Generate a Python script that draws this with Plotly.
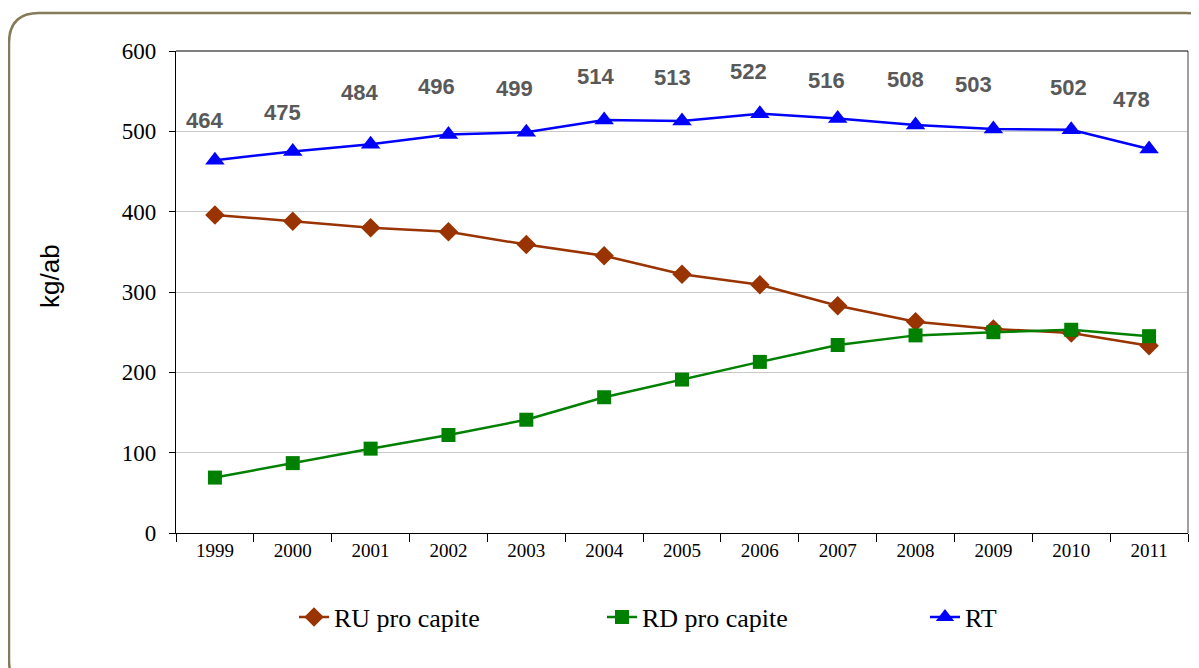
import plotly.graph_objects as go

years = ["1999", "2000", "2001", "2002", "2003", "2004", "2005", "2006", "2007", "2008", "2009", "2010", "2011"]
ru_pro_capite = [396, 388, 380, 375, 359, 345, 322, 309, 283, 263, 254, 249, 233]
rd_pro_capite = [69, 87, 105, 122, 141, 169, 191, 213, 234, 246, 250, 253, 245]
rt = [464, 475, 484, 496, 499, 514, 513, 522, 516, 508, 503, 502, 478]
y_ticks = [0, 100, 200, 300, 400, 500, 600]

# style: pixel offsets of the RT value labels (hand-placed in the original)
label_dx = [-10, -10, -11, -12, -12, -9, -10, -11, -11, -10, -20, -3, -18]
label_dy = [40, 39, 52, 48, 44, 44, 43, 42, 38, 45, 44, 42, 50]

# page body offset (browser default margin)
OFF = 8
W, H = 1199 - OFF, 668 - OFF
# plot area in screen pixels
L, R, T, B = 176, 1188, 51, 533

SERIF = "Liberation Serif"
SANS = "Liberation Sans"


def px(x):
    return (x - L) / (R - L)


def py(y):
    return (B - y) / (B - T)


fig = go.Figure()
fig.add_trace(go.Scatter(x=years, y=ru_pro_capite, name="RU pro capite", mode="lines+markers",
                         line=dict(color="#993300", width=2.5), legend="legend",
                         marker=dict(symbol="diamond", size=15, color="#993300")))
fig.add_trace(go.Scatter(x=years, y=rd_pro_capite, name="RD pro capite", mode="lines+markers",
                         line=dict(color="#008000", width=2.5), legend="legend2",
                         marker=dict(symbol="square", size=14, color="#008000")))
fig.add_trace(go.Scatter(x=years, y=rt, name="RT", mode="lines+markers",
                         line=dict(color="#0000ff", width=2.5), legend="legend3",
                         marker=dict(symbol="triangle-up", size=17, color="#0000ff")))

annotations = []
for i, v in enumerate(rt):
    annotations.append(dict(x=i, y=v, xref="x", yref="y", text=str(v), showarrow=False,
                            xshift=label_dx[i], yshift=label_dy[i], xanchor="center", yanchor="middle",
                            font=dict(family=SANS, size=22, color="#595959", weight="bold")))
annotations.append(dict(x=px(50), y=py(276), xref="paper", yref="paper", xanchor="center",
                        yanchor="middle", text="kg/ab", textangle=-90, showarrow=False,
                        font=dict(family=SANS, size=26, color="black")))

x0, y0, x1, y1, r = 9, 13, 1215, 690, 30
path = (f"M {px(x0)},{py(y0 + r)} Q {px(x0)},{py(y0)} {px(x0 + r)},{py(y0)} "
        f"L {px(x1 - r)},{py(y0)} Q {px(x1)},{py(y0)} {px(x1)},{py(y0 + r)} "
        f"L {px(x1)},{py(y1 - r)} Q {px(x1)},{py(y1)} {px(x1 - r)},{py(y1)} "
        f"L {px(x0 + r)},{py(y1)} Q {px(x0)},{py(y1)} {px(x0)},{py(y1 - r)} Z")

shapes = [
    dict(type="path", path=path, xref="paper", yref="paper", line=dict(color="#857a5a", width=2.5),
         layer="below"),
    dict(type="line", xref="paper", yref="paper", x0=1, x1=1, y0=0, y1=1,
         line=dict(color="#808080", width=1.5)),
    dict(type="line", xref="paper", yref="paper", x0=0, x1=1, y0=1, y1=1,
         line=dict(color="black", width=1.2)),
]

legend_common = dict(orientation="h", xanchor="left", yanchor="middle", y=py(617),
                     bgcolor="rgba(0,0,0,0)", font=dict(family=SERIF, size=26, color="black"))

fig.update_layout(
    width=W, height=H,
    margin=dict(l=L - OFF, r=W - (R - OFF), t=T - OFF, b=H - (B - OFF)),
    paper_bgcolor="white", plot_bgcolor="white",
    showlegend=True,
    legend=dict(x=px(294), **legend_common),
    legend2=dict(x=px(602), **legend_common),
    legend3=dict(x=px(925), **legend_common),
    xaxis=dict(type="category", range=[-0.5, 12.5], showline=True, linecolor="black", linewidth=1.2,
               ticks="outside", ticklen=8, tickcolor="black", tickson="boundaries",
               showgrid=False, tickfont=dict(family=SERIF, size=19, color="black")),
    yaxis=dict(range=[0, 600], tickvals=y_ticks, showline=True, linecolor="black", linewidth=1.2,
               ticks="outside", ticklen=6, tickcolor="black", showgrid=True, gridcolor="#c8c8c8",
               gridwidth=1, zeroline=False, ticklabelstandoff=8,
               tickfont=dict(family=SERIF, size=23, color="black")),
    annotations=annotations,
    shapes=shapes,
)

fig.write_html("out.html")
